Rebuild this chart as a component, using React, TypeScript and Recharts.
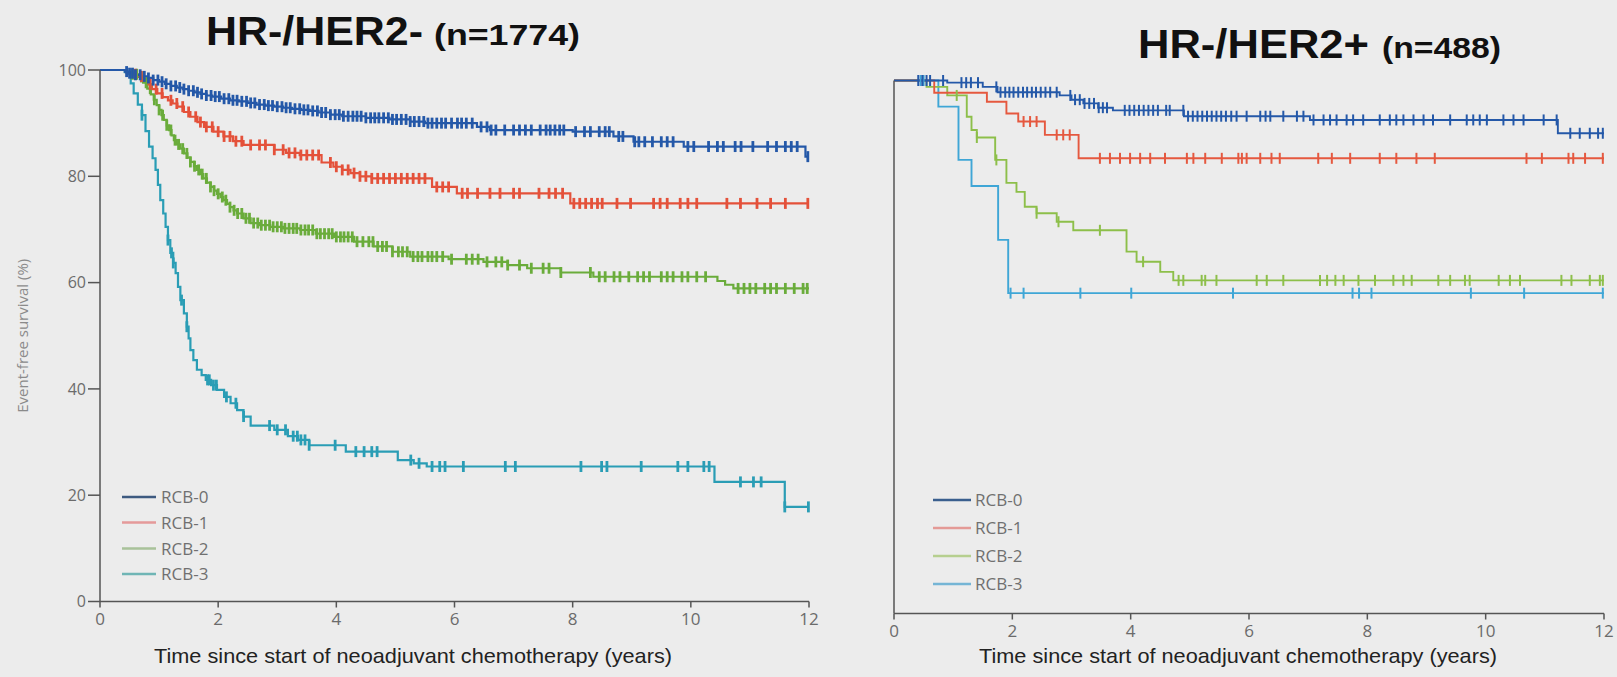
import React from "react";
import { ComposedChart, Line, Scatter, XAxis, YAxis, Label } from "recharts";

type Pt = [number, number];

const X_TICKS = [0, 2, 4, 6, 8, 10, 12];
const Y_TICKS = [0, 20, 40, 60, 80, 100];
const GROUPS = ["RCB-0", "RCB-1", "RCB-2", "RCB-3"];
const X_TITLE = "Time since start of neoadjuvant chemotherapy (years)";
const Y_TITLE = "Event-free survival (%)";

// HR-/HER2- (n=1774): KM steps [years, %]
const NEG_RCB0: Pt[] = [
  [0, 100], [0.42, 99.7], [0.5, 99.4], [0.6, 99.1], [0.7, 98.8], [0.8, 98.5], [0.9, 98.1],
  [1.0, 97.8], [1.1, 97.4], [1.2, 97.0], [1.3, 96.7], [1.4, 96.4], [1.5, 96.1], [1.6, 95.8],
  [1.7, 95.5], [1.8, 95.2], [1.9, 95.0], [2.05, 94.6], [2.2, 94.3], [2.35, 94.1], [2.5, 93.8],
  [2.65, 93.5], [2.8, 93.3], [2.95, 93.1], [3.1, 92.9], [3.25, 92.7], [3.4, 92.5], [3.55, 92.3],
  [3.7, 92.0], [3.9, 91.6], [4.1, 91.3], [4.5, 91.0], [4.9, 90.7], [5.25, 90.3], [5.5, 90.0],
  [6.38, 89.3], [6.6, 88.7], [8.0, 88.4], [8.69, 87.5], [9.03, 86.5], [9.88, 85.6],
  [11.94, 83.7], [12, 83.7],
];
const NEG_RCB1: Pt[] = [
  [0, 100], [0.45, 99.5], [0.55, 99.2], [0.63, 98.8], [0.72, 98.0], [0.8, 97.3], [0.88, 96.4],
  [0.97, 95.6], [1.06, 94.9], [1.15, 94.3], [1.23, 93.7], [1.31, 93.1], [1.42, 92.1],
  [1.53, 91.2], [1.65, 90.2], [1.76, 89.3], [1.92, 88.4], [2.09, 87.5], [2.25, 86.6],
  [2.43, 85.9], [2.95, 85.0], [3.15, 84.4], [3.38, 84.0], [3.75, 82.6], [3.95, 81.8],
  [4.1, 81.2], [4.24, 80.6], [4.4, 80.0], [4.6, 79.6], [5.62, 78.0], [6.04, 76.8],
  [7.96, 74.9], [12, 74.9],
];
const NEG_RCB2: Pt[] = [
  [0, 100], [0.45, 99.6], [0.55, 99.2], [0.65, 98.7], [0.73, 97.6], [0.8, 96.5], [0.86, 95.4],
  [0.91, 94.4], [0.96, 93.4], [1.0, 92.5], [1.04, 91.5], [1.08, 90.6], [1.13, 89.6],
  [1.17, 88.7], [1.21, 87.7], [1.25, 86.8], [1.3, 86.0], [1.36, 85.2], [1.42, 84.3],
  [1.48, 83.5], [1.53, 82.7], [1.59, 81.9], [1.64, 81.2], [1.7, 80.4], [1.75, 79.6],
  [1.81, 78.8], [1.87, 78.0], [1.93, 77.3], [1.98, 76.7], [2.04, 76.1], [2.09, 75.5],
  [2.15, 74.8], [2.2, 74.2], [2.26, 73.6], [2.32, 73.0], [2.43, 72.1], [2.55, 71.2],
  [2.7, 70.8], [2.88, 70.5], [3.1, 70.2], [3.39, 69.9], [3.65, 69.2], [3.96, 68.6],
  [4.3, 67.7], [4.63, 66.8], [4.95, 65.8], [5.25, 64.9], [5.9, 64.4], [6.49, 63.9],
  [6.9, 63.3], [7.23, 62.7], [7.8, 61.9], [8.35, 61.1], [10.45, 60.3], [10.58, 59.6],
  [10.72, 58.9], [12, 58.9],
];
const NEG_RCB3: Pt[] = [
  [0, 100], [0.42, 99.6], [0.46, 99.2], [0.52, 97.5], [0.57, 95.6], [0.64, 93.5], [0.71, 91.5],
  [0.77, 88.5], [0.83, 85.6], [0.89, 83.4], [0.94, 81.2], [0.98, 78.4], [1.02, 75.5],
  [1.07, 73.0], [1.11, 70.5], [1.15, 68.0], [1.19, 65.6], [1.24, 63.7], [1.28, 61.8],
  [1.32, 59.2], [1.36, 56.7], [1.42, 54.2], [1.47, 51.7], [1.5, 49.5], [1.53, 47.3],
  [1.58, 45.4], [1.64, 43.6], [1.72, 42.6], [1.79, 41.7], [1.88, 40.7], [1.98, 39.8],
  [2.1, 38.5], [2.21, 37.3], [2.32, 36.0], [2.43, 34.8], [2.55, 33.1], [2.95, 32.3],
  [3.18, 31.1], [3.35, 30.4], [3.54, 29.4], [4.16, 28.2], [5.04, 26.6], [5.31, 26.0],
  [5.53, 25.4], [10.4, 22.5], [11.59, 17.8], [12, 17.8],
];

// censoring times (years)
const NEG_C0 = [
  0.45, 0.5, 0.55, 0.6, 0.68, 0.75, 0.82, 0.9, 0.98, 1.05, 1.12, 1.2, 1.28, 1.35, 1.42, 1.5,
  1.58, 1.65, 1.72, 1.8, 1.88, 1.95, 2.02, 2.1, 2.18, 2.25, 2.32, 2.4, 2.48, 2.55, 2.62, 2.7,
  2.78, 2.85, 2.92, 3.0, 3.08, 3.15, 3.22, 3.3, 3.38, 3.45, 3.52, 3.6, 3.68, 3.75, 3.82, 3.9,
  3.98, 4.05, 4.12, 4.2, 4.28, 4.35, 4.42, 4.5, 4.58, 4.65, 4.72, 4.8, 4.88, 4.95, 5.02, 5.1,
  5.18, 5.25, 5.32, 5.4, 5.48, 5.55, 5.62, 5.7, 5.78, 5.85, 5.95, 6.05, 6.12, 6.2, 6.3, 6.45,
  6.55, 6.62, 6.7, 6.85, 7.0, 7.1, 7.2, 7.3, 7.45, 7.55, 7.62, 7.7, 7.78, 7.85, 8.05, 8.2,
  8.3, 8.45, 8.55, 8.62, 8.78, 8.85, 9.05, 9.12, 9.22, 9.35, 9.5, 9.6, 9.7, 9.95, 10.05,
  10.3, 10.45, 10.55, 10.75, 10.85, 11.05, 11.3, 11.45, 11.6, 11.7, 11.8, 11.98,
];
const NEG_C1 = [
  0.6, 0.7, 0.85, 0.95, 1.05, 1.2, 1.3, 1.4, 1.5, 1.62, 1.7, 1.8, 1.9, 2.0, 2.1, 2.2, 2.3,
  2.4, 2.55, 2.7, 2.8, 2.95, 3.1, 3.2, 3.3, 3.4, 3.5, 3.6, 3.7, 3.9, 4.0, 4.1, 4.2, 4.3, 4.4,
  4.5, 4.6, 4.7, 4.8, 4.9, 5.0, 5.1, 5.2, 5.3, 5.4, 5.5, 5.7, 5.8, 5.9, 6.13, 6.22, 6.39,
  6.6, 6.77, 7.0, 7.1, 7.43, 7.6, 7.71, 7.83, 8.02, 8.12, 8.22, 8.32, 8.42, 8.5, 8.75, 8.98,
  9.37, 9.48, 9.6, 9.82, 9.95, 10.1, 10.61, 10.84, 11.12, 11.35, 11.6, 11.98,
];
const NEG_C2 = [
  0.55, 0.62, 0.7, 0.78, 0.85, 0.92, 1.0, 1.06, 1.13, 1.2, 1.27, 1.33, 1.4, 1.47, 1.53, 1.6,
  1.67, 1.73, 1.8, 1.87, 1.93, 2.0, 2.07, 2.13, 2.2, 2.27, 2.33, 2.4, 2.47, 2.53, 2.6, 2.67,
  2.73, 2.8, 2.87, 2.93, 3.0, 3.07, 3.13, 3.2, 3.27, 3.33, 3.4, 3.47, 3.53, 3.6, 3.67, 3.73,
  3.8, 3.87, 3.93, 4.0, 4.07, 4.13, 4.2, 4.27, 4.35, 4.45, 4.55, 4.62, 4.7, 4.78, 4.85, 4.95,
  5.05, 5.12, 5.2, 5.3, 5.38, 5.45, 5.55, 5.62, 5.7, 5.8, 5.95, 6.2, 6.3, 6.4, 6.55, 6.7,
  6.8, 6.9, 7.1, 7.3, 7.5, 7.6, 7.8, 8.3, 8.45, 8.55, 8.7, 8.8, 8.95, 9.1, 9.2, 9.3, 9.5,
  9.6, 9.7, 9.85, 9.95, 10.1, 10.25, 10.8, 10.9, 11.0, 11.1, 11.25, 11.35, 11.45, 11.6,
  11.75, 11.9, 11.97,
];
const NEG_C3 = [
  0.71, 1.15, 1.21, 1.24, 1.38, 1.47, 1.82, 1.85, 1.92, 1.97, 2.14, 2.3, 2.43, 2.87, 3.0,
  3.14, 3.27, 3.34, 3.4, 3.47, 3.54, 3.98, 4.33, 4.47, 4.6, 4.69, 5.26, 5.4, 5.62, 5.75,
  5.84, 6.15, 6.86, 7.03, 8.14, 8.49, 8.58, 9.16, 9.78, 9.95, 10.22, 10.31, 10.84, 11.06,
  11.19, 11.59, 11.99,
];

// HR-/HER2+ (n=488)
const POS_RCB0: Pt[] = [
  [0, 100], [0.9, 99.6], [1.5, 98.8], [1.75, 97.8], [2.8, 97.2], [3.0, 96.4], [3.2, 95.7],
  [3.45, 94.9], [3.7, 94.4], [4.9, 93.3], [7.03, 92.6], [11.22, 90.1], [12, 90.1],
];
const POS_RCB1: Pt[] = [
  [0, 100], [0.68, 97.7], [1.57, 96.0], [1.9, 93.8], [2.1, 92.3], [2.55, 89.8], [3.12, 85.4],
  [12, 85.4],
];
const POS_RCB2: Pt[] = [
  [0, 100], [0.55, 98.8], [0.9, 97.2], [1.23, 93.2], [1.31, 90.7], [1.4, 89.3], [1.71, 85.1],
  [1.9, 80.8], [2.07, 79.1], [2.21, 76.3], [2.41, 75.1], [2.75, 73.5], [3.03, 71.9],
  [3.93, 67.9], [4.1, 66.0], [4.5, 64.1], [4.72, 62.5], [12, 62.5],
];
const POS_RCB3: Pt[] = [
  [0, 100], [0.75, 95.1], [1.09, 85.1], [1.31, 80.2], [1.76, 70.1], [1.93, 60.1], [12, 60.1],
];

const POS_C0 = [
  0.41, 0.48, 0.55, 0.61, 0.83, 1.14, 1.22, 1.3, 1.42, 1.73, 1.8, 1.88, 1.95, 2.02, 2.1,
  2.18, 2.25, 2.33, 2.4, 2.48, 2.56, 2.64, 2.75, 2.98, 3.06, 3.14, 3.22, 3.3, 3.38, 3.46,
  3.53, 3.6, 3.9, 3.98, 4.06, 4.14, 4.22, 4.3, 4.38, 4.46, 4.6, 4.66, 4.89, 4.97, 5.05,
  5.13, 5.21, 5.29, 5.37, 5.45, 5.53, 5.61, 5.7, 5.79, 5.96, 6.19, 6.28, 6.36, 6.58, 6.81,
  6.92, 7.09, 7.26, 7.37, 7.48, 7.65, 7.76, 7.93, 8.21, 8.38, 8.49, 8.61, 8.78, 8.95, 9.11,
  9.4, 9.68, 9.79, 9.9, 10.02, 10.3, 10.47, 10.64, 10.98, 11.2, 11.43, 11.59, 11.76, 11.9,
  11.98,
];
const POS_C1 = [
  2.19, 2.3, 2.41, 2.75, 2.86, 2.97, 3.48, 3.65, 3.82, 3.99, 4.16, 4.33, 4.58, 4.95, 5.06,
  5.26, 5.54, 5.82, 5.88, 5.96, 6.19, 6.38, 6.52, 7.17, 7.4, 7.71, 8.21, 8.49, 8.83, 9.14,
  10.69, 10.95, 11.4, 11.48, 11.68, 11.98,
];
const POS_C2 = [
  1.06, 1.4, 1.73, 2.41, 2.78, 3.48, 4.21, 4.81, 4.89, 5.2, 5.26, 5.45, 6.13, 6.3, 6.58,
  7.2, 7.32, 7.46, 7.6, 7.85, 8.13, 8.44, 8.61, 8.75, 9.2, 9.4, 9.65, 9.73, 10.22, 10.41,
  10.58, 11.28, 11.45, 11.76, 11.93, 11.98,
];
const POS_C3 = [0.45, 0.5, 1.97, 2.19, 3.15, 4.01, 5.73, 7.75, 7.86, 8.07, 9.75, 10.65, 11.98];

const SANS = "'Liberation Sans', Arial, sans-serif";
const SMALL = "'Open Sans', 'DejaVu Sans', sans-serif";
const AXIS = "#555";
const TICK_TXT = "#6b6b6b";

const stepAt = (steps: Pt[], t: number) => {
  let v = steps[0][1];
  for (const [x, y] of steps) {
    if (x <= t) v = y;
    else break;
  }
  return v;
};
const toRows = (steps: Pt[]) => steps.map(([t, s]) => ({ t, s }));
const censorRows = (steps: Pt[], times: number[]) => times.map((t) => ({ t, s: stepAt(steps, t) }));

const censorShape = (color: string, half: number, w: number) => (p: any) => (
  <line x1={p.cx} x2={p.cx} y1={p.cy - half} y2={p.cy + half} stroke={color} strokeWidth={w} />
);

type Curve = { steps: Pt[]; censors: number[]; color: string };

function KMPanel({
  left,
  width,
  top,
  bottom,
  right,
  yAxisWidth,
  curves,
  showYTicks,
  lineWidth,
  markWidth,
}: {
  left: number;
  width: number;
  top: number;
  bottom: number;
  right: number;
  yAxisWidth: number;
  curves: Curve[];
  showYTicks: boolean;
  lineWidth: number;
  markWidth: number;
}) {
  // draw RCB-3 first so RCB-0 sits on top
  const ordered = [...curves].reverse();
  return (
    <div style={{ position: "absolute", left, top: 0 }}>
      <ComposedChart width={width} height={677} margin={{ top, right, bottom: 0, left: 0 }}>
        <XAxis
          type="number"
          dataKey="t"
          domain={[0, 12]}
          ticks={X_TICKS}
          interval={0}
          height={677 - bottom}
          tickSize={6}
          tickMargin={5}
          axisLine={{ stroke: AXIS, strokeWidth: 1.5 }}
          tickLine={{ stroke: AXIS, strokeWidth: 1.5 }}
          tick={{ fill: TICK_TXT, fontSize: 17, fontFamily: SMALL }}
        />
        <YAxis
          type="number"
          domain={[0, 100]}
          ticks={Y_TICKS}
          interval={0}
          width={yAxisWidth}
          tickSize={12}
          tickMargin={2}
          axisLine={{ stroke: AXIS, strokeWidth: 1.5 }}
          tickLine={{ stroke: AXIS, strokeWidth: 1.5 }}
          tick={showYTicks ? { fill: TICK_TXT, fontSize: 16, fontFamily: SMALL } : false}
        >
          {showYTicks && (
            <Label
              value={Y_TITLE}
              angle={-90}
              position="insideLeft"
              offset={23}
              fill="#8a8a8a"
              fontSize={15}
              fontFamily={SMALL}
              style={{ textAnchor: "middle" }}
            />
          )}
        </YAxis>
        {ordered.map((c, i) => (
          <Line
            key={"l" + i}
            data={toRows(c.steps)}
            dataKey="s"
            type="stepAfter"
            stroke={c.color}
            strokeWidth={lineWidth}
            dot={false}
            activeDot={false}
            isAnimationActive={false}
          />
        ))}
        {ordered.map((c, i) => (
          <Scatter
            key={"c" + i}
            data={censorRows(c.steps, c.censors)}
            dataKey="s"
            fill={c.color}
            shape={censorShape(c.color, 5.5, markWidth)}
            isAnimationActive={false}
          />
        ))}
      </ComposedChart>
    </div>
  );
}

const NEG_COLORS = ["#2458a8", "#e4513a", "#6aac3b", "#2a9db5"];
const POS_COLORS = ["#2458a8", "#e5583f", "#8dbf4a", "#3fa6d6"];
const NEG_LEGEND = ["#3d5a80", "#e59a9a", "#a9c29a", "#6fb5b5"];
const POS_LEGEND = ["#3a5f8e", "#e49a96", "#b6cf8f", "#75b5d5"];

export default function App() {
  const negCurves: Curve[] = [
    { steps: NEG_RCB0, censors: NEG_C0, color: NEG_COLORS[0] },
    { steps: NEG_RCB1, censors: NEG_C1, color: NEG_COLORS[1] },
    { steps: NEG_RCB2, censors: NEG_C2, color: NEG_COLORS[2] },
    { steps: NEG_RCB3, censors: NEG_C3, color: NEG_COLORS[3] },
  ];
  const posCurves: Curve[] = [
    { steps: POS_RCB0, censors: POS_C0, color: POS_COLORS[0] },
    { steps: POS_RCB1, censors: POS_C1, color: POS_COLORS[1] },
    { steps: POS_RCB2, censors: POS_C2, color: POS_COLORS[2] },
    { steps: POS_RCB3, censors: POS_C3, color: POS_COLORS[3] },
  ];
  const negLegendY = [497, 522.5, 548.5, 574];
  const posLegendY = [500, 528, 556, 584];

  return (
    <div
      style={{
        position: "absolute",
        left: 0,
        top: 0,
        width: 1617,
        height: 677,
        background: "#ececec",
        overflow: "hidden",
      }}
    >
      <KMPanel
        left={0}
        width={830}
        top={70}
        bottom={601.5}
        right={21}
        yAxisWidth={100}
        curves={negCurves}
        showYTicks
        lineWidth={2.2}
        markWidth={2.8}
      />
      <KMPanel
        left={830}
        width={787}
        top={80.5}
        bottom={613.5}
        right={13}
        yAxisWidth={64}
        curves={posCurves}
        showYTicks={false}
        lineWidth={1.9}
        markWidth={2}
      />
      <svg
        width={1617}
        height={677}
        style={{ position: "absolute", left: 0, top: 0, pointerEvents: "none" }}
      >
        <text x={206} y={45} fontFamily={SANS} fontWeight="bold" fill="#111">
          <tspan fontSize={41} textLength={217} lengthAdjust="spacingAndGlyphs">
            HR-/HER2-
          </tspan>
          <tspan x={434} fontSize={29} textLength={146} lengthAdjust="spacingAndGlyphs">
            (n=1774)
          </tspan>
        </text>
        <text x={1138} y={58} fontFamily={SANS} fontWeight="bold" fill="#111">
          <tspan fontSize={41} textLength={231} lengthAdjust="spacingAndGlyphs">
            HR-/HER2+
          </tspan>
          <tspan x={1382} fontSize={29} textLength={119} lengthAdjust="spacingAndGlyphs">
            (n=488)
          </tspan>
        </text>
        <text
          x={154}
          y={663}
          fontFamily={SANS}
          fontSize={21}
          fill="#222"
          textLength={518}
          lengthAdjust="spacingAndGlyphs"
        >
          {X_TITLE}
        </text>
        <text
          x={979}
          y={663}
          fontFamily={SANS}
          fontSize={21}
          fill="#222"
          textLength={518}
          lengthAdjust="spacingAndGlyphs"
        >
          {X_TITLE}
        </text>
        {GROUPS.map((g, i) => (
          <g key={"nl" + g}>
            <line x1={122} x2={156} y1={negLegendY[i]} y2={negLegendY[i]} stroke={NEG_LEGEND[i]} strokeWidth={2.5} />
            <text x={161} y={negLegendY[i] + 6} fontSize={17} fontFamily={SMALL} fill="#707070">
              {g}
            </text>
          </g>
        ))}
        {GROUPS.map((g, i) => (
          <g key={"pl" + g}>
            <line x1={933} x2={971} y1={posLegendY[i]} y2={posLegendY[i]} stroke={POS_LEGEND[i]} strokeWidth={2.5} />
            <text x={975} y={posLegendY[i] + 6} fontSize={17} fontFamily={SMALL} fill="#707070">
              {g}
            </text>
          </g>
        ))}
      </svg>
    </div>
  );
}
